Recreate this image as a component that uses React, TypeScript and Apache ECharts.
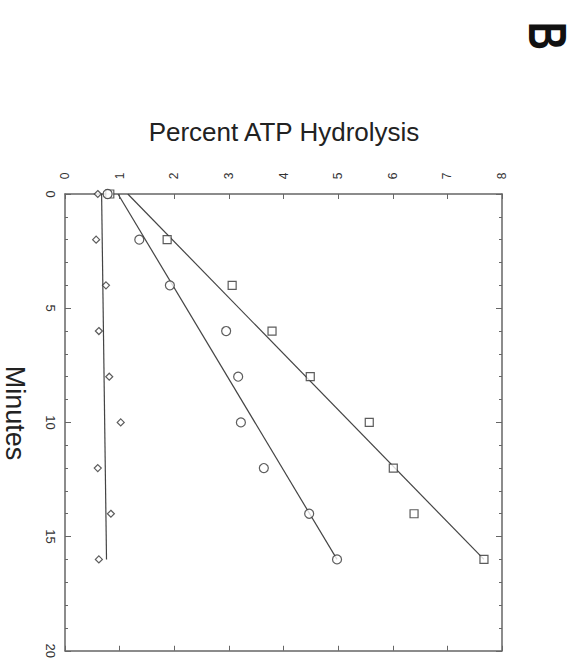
import React, { useEffect, useRef } from "react";
import * as echarts from "echarts";

const minutes = [0, 2, 4, 6, 8, 10, 12, 14, 16];
const squaresPct = [0.82, 1.87, 3.06, 3.79, 4.49, 5.57, 6.01, 6.39, 7.67];
const circlesPct = [0.78, 1.36, 1.92, 2.95, 3.17, 3.22, 3.64, 4.47, 4.98];
const diamondsPct = [0.6, 0.57, 0.75, 0.62, 0.81, 1.02, 0.6, 0.84, 0.62];

const fitMinutes = [0, 16];
const squaresFit = [1.15, 7.67];
const circlesFit = [0.97, 4.98];
const diamondsFit = [0.67, 0.76];

const pctTicks = ["0", "1", "2", "3", "4", "5", "6", "7", "8"];
const minuteTicks = ["0", "5", "10", "15", "20"];

const INK = "#444";
const FONT = "Liberation Sans, Arial, sans-serif";

function pairs(xs: number[], ts: number[]) {
  return xs.map((v, i) => [v, ts[i]]);
}

export default function App() {
  const ref = useRef<HTMLDivElement>(null);
  useEffect(() => {
    if (!ref.current) return;
    const chart = echarts.init(ref.current, null, { renderer: "svg" });
    const axisLine = { show: true, onZero: false, lineStyle: { color: "#666", width: 1.5 } };
    const scatter = (name: string, symbol: string, size: number, data: number[]) => ({
      name,
      type: "scatter",
      symbol,
      symbolSize: size,
      data: pairs(data, minutes),
      itemStyle: { color: "#fff", borderColor: "#333", borderWidth: 1.2 },
      z: 3,
    });
    const fit = (name: string, data: number[]) => ({
      name,
      type: "line",
      data: pairs(data, fitMinutes),
      symbol: "none",
      lineStyle: { color: INK, width: 1.2 },
      z: 2,
    });
    chart.setOption({
      animation: false,
      backgroundColor: "#fff",
      grid: { left: 65, top: 194, right: 81, bottom: 10, containLabel: false },
      xAxis: [
        {
          type: "value",
          position: "top",
          min: 0,
          max: 8,
          interval: 1,
          axisLine,
          axisTick: { show: true, inside: true, length: 5, lineStyle: { color: "#666" } },
          axisLabel: {
            rotate: -90,
            margin: 18,
            fontSize: 12,
            color: "#333",
            fontFamily: FONT,
            align: "center",
            verticalAlign: "middle",
            formatter: (v: number) => pctTicks[Math.round(v)] ?? "",
          },
          splitLine: { show: false },
        },
        {
          type: "value",
          position: "bottom",
          min: 0,
          max: 8,
          interval: 1,
          axisLine,
          axisTick: { show: true, inside: true, length: 5, lineStyle: { color: "#666" } },
          axisLabel: { show: false },
          splitLine: { show: false },
        },
      ],
      yAxis: [
        {
          type: "value",
          position: "left",
          inverse: true,
          min: 0,
          max: 20,
          interval: 5,
          axisLine,
          axisTick: { show: true, inside: true, length: 6, lineStyle: { color: "#666" } },
          minorTick: { show: true, splitNumber: 5, length: 3, lineStyle: { color: "#666" } },
          axisLabel: {
            rotate: -90,
            margin: 15,
            fontSize: 13,
            color: "#333",
            fontFamily: FONT,
            align: "center",
            verticalAlign: "middle",
            formatter: (v: number) => minuteTicks[Math.round(v / 5)] ?? "",
          },
          splitLine: { show: false },
        },
        {
          type: "value",
          position: "right",
          inverse: true,
          min: 0,
          max: 20,
          interval: 5,
          axisLine,
          axisTick: { show: true, inside: true, length: 6, lineStyle: { color: "#666" } },
          minorTick: { show: true, splitNumber: 5, length: 3, lineStyle: { color: "#666" } },
          axisLabel: { show: false },
          splitLine: { show: false },
        },
      ],
      series: [
        fit("Squares fit", squaresFit),
        fit("Circles fit", circlesFit),
        fit("Diamonds fit", diamondsFit),
        scatter("Squares", "rect", 8, squaresPct),
        scatter("Circles", "circle", 9, circlesPct),
        scatter("Diamonds", "diamond", 7, diamondsPct),
      ],
      graphic: [
        {
          type: "text",
          x: 284,
          y: 132,
          style: {
            text: "Percent ATP Hydrolysis",
            font: `26px ${FONT}`,
            fill: "#222",
            align: "center",
            verticalAlign: "middle",
          },
        },
        {
          type: "text",
          x: 15,
          y: 413,
          rotation: -Math.PI / 2,
          style: {
            text: "Minutes",
            font: `27px ${FONT}`,
            fill: "#222",
            align: "center",
            verticalAlign: "middle",
          },
        },
        {
          type: "text",
          x: 548,
          y: 36,
          rotation: -Math.PI / 2,
          scaleX: 0.72,
          style: {
            text: "B",
            font: `bold 54px ${FONT}`,
            fill: "#111",
            align: "center",
            verticalAlign: "middle",
          },
        },
      ],
    });
    return () => chart.dispose();
  }, []);
  return <div ref={ref} style={{ width: 583, height: 661, position: "absolute", left: 0, top: 0 }} />;
}
